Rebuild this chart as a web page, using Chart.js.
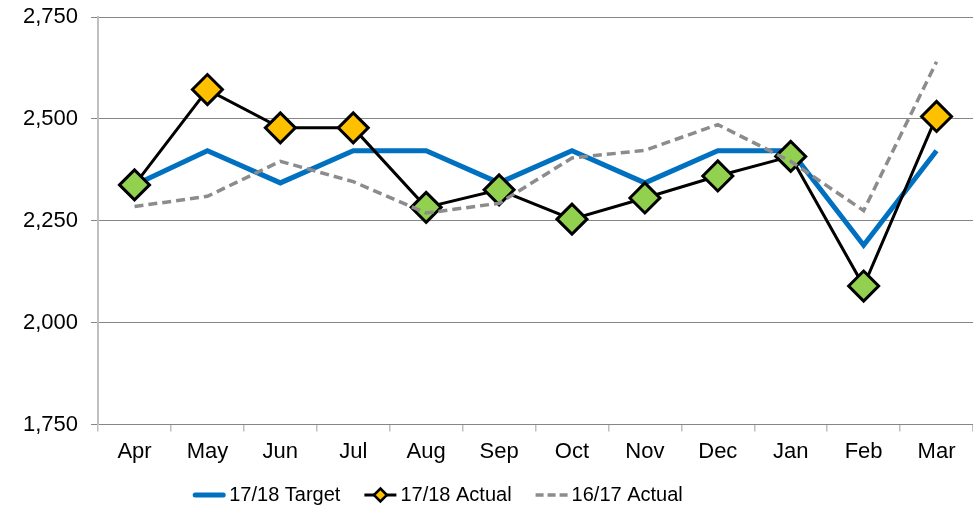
<!DOCTYPE html>
<html>
<head>
<meta charset="utf-8">
<script src="https://cdn.jsdelivr.net/npm/chart.js@4/dist/chart.umd.min.js"></script>
<style>
  html, body { margin: 0; padding: 0; background: #ffffff; }
  #wrap { width: 973px; height: 512px; position: relative; }
</style>
</head>
<body>
<div id="wrap"><canvas id="c" width="973" height="512"></canvas></div>
<script>
const months = ['Apr','May','Jun','Jul','Aug','Sep','Oct','Nov','Dec','Jan','Feb','Mar'];
const target1718 = [2338, 2422, 2343, 2422, 2422, 2343, 2422, 2343, 2422, 2422, 2190, 2422];
const actual1718 = [2338, 2572, 2478, 2478, 2283, 2326, 2254, 2306, 2360, 2408, 2090, 2506];
const actual1617 = [2285, 2310, 2396, 2346, 2269, 2293, 2404, 2423, 2486, 2396, 2275, 2640];
const yTicks = [1750, 2000, 2250, 2500, 2750];
const seriesNames = ['17/18 Target', '17/18 Actual', '16/17 Actual'];

const FONT = '"Liberation Sans", Arial, sans-serif';
const BLUE = '#0070C0', ORANGE = '#FFC000', GREEN = '#92D050', GREY = '#8C8C8C';

const markerFill = actual1718.map((v, i) => v > target1718[i] ? ORANGE : GREEN);

const legendPlugin = {
  id: 'customLegend',
  afterDraw(chart) {
    const ctx = chart.ctx;
    ctx.save();
    ctx.font = '20px ' + FONT;
    ctx.textBaseline = 'middle';
    ctx.fillStyle = '#000';
    const iconW = 32, textGap = 4, itemGap = 24, cy = 495;
    const widths = seriesNames.map(t => ctx.measureText(t).width);
    const total = widths.reduce((a, b) => a + b, 0) + 3 * (iconW + textGap) + 2 * itemGap;
    let x = 438 - total / 2;
    seriesNames.forEach((name, i) => {
      ctx.save();
      ctx.beginPath();
      if (i === 0) {
        ctx.strokeStyle = BLUE; ctx.lineWidth = 5; ctx.lineCap = 'round';
        ctx.moveTo(x + 2, cy); ctx.lineTo(x + iconW - 2, cy); ctx.stroke();
      } else if (i === 1) {
        ctx.strokeStyle = '#000'; ctx.lineWidth = 3;
        ctx.moveTo(x, cy); ctx.lineTo(x + iconW, cy); ctx.stroke();
        const mx = x + iconW / 2, r = 6.5;
        ctx.beginPath();
        ctx.moveTo(mx, cy - r); ctx.lineTo(mx + r, cy); ctx.lineTo(mx, cy + r); ctx.lineTo(mx - r, cy); ctx.closePath();
        ctx.fillStyle = ORANGE; ctx.fill();
        ctx.lineWidth = 2.5; ctx.stroke();
      } else {
        ctx.strokeStyle = GREY; ctx.lineWidth = 3.5; ctx.setLineDash([8, 4]);
        ctx.moveTo(x, cy); ctx.lineTo(x + iconW, cy); ctx.stroke();
      }
      ctx.restore();
      ctx.fillStyle = '#000';
      ctx.fillText(name, x + iconW + textGap, cy);
      x += iconW + textGap + widths[i] + itemGap;
    });
    ctx.restore();
  }
};

new Chart(document.getElementById('c'), {
  type: 'line',
  data: {
    labels: months,
    datasets: [
      {
        label: seriesNames[0], data: target1718, order: 3,
        borderColor: BLUE, borderWidth: 5, pointRadius: 0, tension: 0,
        borderJoinStyle: 'miter', fill: false
      },
      {
        label: seriesNames[1], data: actual1718, order: 2,
        borderColor: '#000', borderWidth: 3, tension: 0, fill: false,
        pointStyle: 'rectRot', pointRadius: 15, pointBorderWidth: 3,
        pointBorderColor: '#000', pointBackgroundColor: markerFill
      },
      {
        label: seriesNames[2], data: actual1617, order: 1,
        borderColor: GREY, borderWidth: 3.5, borderDash: [9, 5], pointRadius: 0,
        tension: 0, fill: false
      }
    ]
  },
  options: {
    responsive: false,
    animation: false,
    events: [],
    layout: { autoPadding: false, padding: { top: 17, left: 10, right: 0, bottom: 40 } },
    plugins: { legend: { display: false }, tooltip: { enabled: false } },
    scales: {
      x: {
        offset: true,
        afterFit(s) { s.paddingLeft = 0; s.paddingRight = 0; },
        grid: { offset: true, drawOnChartArea: false, tickLength: 7, color: '#BFBFBF', lineWidth: 1.5 },
        border: { display: true, color: '#868686', width: 1 },
        ticks: { color: '#000', font: { family: FONT, size: 22 }, padding: 7, maxRotation: 0, autoSkip: false }
      },
      y: {
        min: 1750, max: 2750,
        afterBuildTicks(scale) { scale.ticks = yTicks.map(v => ({ value: v })); },
        afterFit(s) { s.paddingTop = 0; s.paddingBottom = 0; },
        grid: { color: '#868686', lineWidth: 1, tickLength: 7 },
        border: { display: true, color: '#BFBFBF', width: 2 },
        ticks: {
          color: '#000', font: { family: FONT, size: 22 }, padding: 13,
          callback: v => Number(v).toLocaleString('en-US')
        }
      }
    }
  },
  plugins: [legendPlugin]
});
</script>
</body>
</html>
